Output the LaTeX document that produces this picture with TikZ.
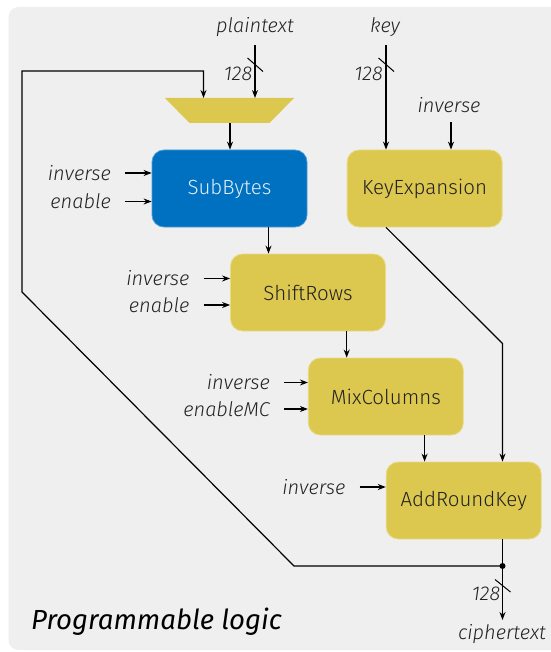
\documentclass[tikz,border=0pt]{standalone}
\usepackage{fontspec}
\setmainfont{Fira Sans}[UprightFont=* Light, ItalicFont=* Light Italic]
\newfontfamily\plfont{Fira Sans}
\usetikzlibrary{arrows.meta,calc}
\definecolor{bgc}{HTML}{EFEFEF}
\definecolor{blu}{HTML}{0070C0}
\definecolor{bluE}{HTML}{4A9BD6}
\definecolor{yel}{HTML}{DDC84F}
\definecolor{yelE}{HTML}{EADB8A}
\definecolor{txt}{HTML}{222222}
\tikzset{
  blk/.style={rounded corners=12pt, minimum width=155pt, minimum height=77pt, inner sep=0pt, font=\fontsize{20.5}{22}\selectfont, text=txt},
  yblk/.style={blk, fill=yel, draw=yelE, line width=0.8pt},
  bblk/.style={blk, fill=blu, draw=bluE, line width=0.8pt, text=white!88!blu},
  lab/.style={font=\fontsize{20}{22}\selectfont\itshape, text=txt, inner sep=0pt},
  num/.style={font=\fontsize{20}{22}\selectfont\itshape, text=txt, inner sep=0pt},
  wire/.style={line width=1.2pt, black},
  arr/.style={wire, -{Stealth[length=8pt,width=6pt]}},
}
\begin{document}
\begin{tikzpicture}[x=1pt,y=-1pt]
\useasboundingbox (0,0) rectangle (550,652);
\fill[bgc, rounded corners=10pt] (8.5,7) rectangle (560,650);

% blocks
\node[bblk] (sb) at (229.5,188.5) {SubBytes};
\node[yblk] (kx) at (424.6,188.5) {KeyExpansion};
\node[yblk] (sr) at (308,292.5) {ShiftRows};
\node[yblk] (mc) at (385.8,396.5) {MixColumns};
\node[yblk] (ark) at (463.7,500.5) {AddRoundKey};

% mux
\fill[yel] (165,98) -- (294,98) -- (269.5,123) -- (189.5,123) -- cycle;
\coordinate (mA) at (203.5,98);
\coordinate (mB) at (255,98);
\coordinate (mO) at (230,123);

% plaintext
\node[lab] (pt) at (255,27) {plaintext};
\coordinate (ptS) at (255,45);
\draw[arr] (ptS) -- (mB);
\draw[wire, line width=1pt] (247.5,58) -- (263,71.5);
\node[num] (n1) at (238,73.5) {128};

% key
\node[lab] (key) at (385,27) {key};
\coordinate (kS) at (386,45);
\draw[arr] (kS) -- (kS |- kx.north);
\draw[wire, line width=1pt] (378.5,58) -- (394,71.5);
\node[num] (n2) at (368.5,73.5) {128};

% key expansion inverse
\node[lab] (kinv) at (449,105) {inverse};
\coordinate (kinvS) at (451,122);
\draw[arr] (kinvS) -- (kinvS |- kx.north);

% mux -> subbytes
\draw[arr] (mO) -- (mO |- sb.north);

% subbytes inputs
\node[lab, anchor=east] (sbi) at (111,173) {inverse};
\node[lab, anchor=east] (sbe) at (111,201.5) {enable};
\draw[arr] ($(sbi.east)+(14,0)$) -- (sbi.east -| sb.west);
\draw[arr] ($(sbe.east)+(14,0)$) -- (sbe.east -| sb.west);

% shiftrows inputs
\node[lab, anchor=east] (sri) at (189.5,278.5) {inverse};
\node[lab, anchor=east] (sre) at (189.5,305) {enable};
\draw[arr] ($(sri.east)+(14,0)$) -- (sri.east -| sr.west);
\draw[arr] ($(sre.east)+(14,0)$) -- (sre.east -| sr.west);

% mixcolumns inputs
\node[lab, anchor=east] (mci) at (270,382.5) {inverse};
\node[lab, anchor=east] (mce) at (270,409) {enableMC};
\draw[arr] ($(mci.east)+(14,0)$) -- (mci.east -| mc.west);
\draw[arr] ($(mce.east)+(14,0)$) -- (mce.east -| mc.west);

% addroundkey input
\node[lab, anchor=east] (arki) at (345.5,487) {inverse};
\draw[arr] ($(arki.east)+(14,0)$) -- (arki.east -| ark.west);

% chain
\coordinate (c1) at (268.5,227);
\draw[arr] (sb.south -| c1) -- (sr.north -| c1);
\coordinate (c2) at (346.7,0);
\draw[arr] (sr.south -| c2) -- (mc.north -| c2);
\coordinate (c3) at (424.6,0);
\draw[arr] (mc.south -| c3) -- (ark.north -| c3);

% key expansion -> addroundkey
\coordinate (k1) at (386,227);
\coordinate (k2) at (502.5,343.5);
\draw[arr] (kx.south -| k1) -- (k2) -- (k2 |- ark.north);

% output
\coordinate (dot) at (502.5,566);
\coordinate (outE) at (502.5,620);
\draw[wire] (ark.south -| dot) -- (dot);
\draw[arr] (dot) -- (outE);
\fill (dot) circle (3pt);
\draw[wire, line width=1pt] (495,579.5) -- (510.5,592);
\node[num] (n3) at (486,594) {128};
\node[lab] (ct) at (502,634) {ciphertext};

% feedback
\draw[arr] (dot) -- (294,566) -- (22,292) -- (22,71) -- (203.5,71) -- (mA);

\node[font=\plfont\fontsize{27.6}{30}\selectfont\itshape, text=black, anchor=base west, inner sep=0pt] (pl) at (31,629) {Programmable logic};
\end{tikzpicture}
\end{document}
